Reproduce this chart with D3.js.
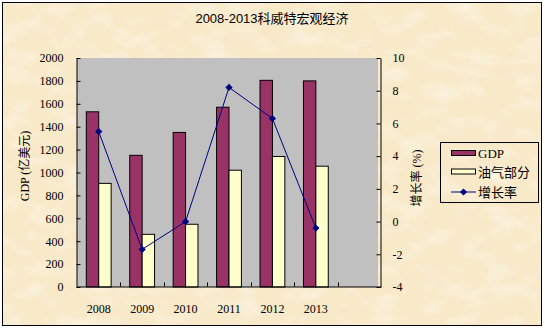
<!DOCTYPE html>
<html>
<head>
<meta charset="utf-8">
<script src="https://cdn.jsdelivr.net/npm/d3@7/dist/d3.min.js"></script>
<style>
  html, body { margin: 0; padding: 0; background: #fff; }
  svg { display: block; }
  text { fill: #000; }
</style>
</head>
<body>
<svg id="chart" width="545" height="330"></svg>
<script>
// Kuwait macro data, 2008-2013
const categories = ["2008", "2009", "2010", "2011", "2012", "2013", ""];
const gdp = [1530, 1150, 1350, 1570, 1805, 1800];          // 亿美元
const oilGas = [905, 460, 548, 1020, 1140, 1055];          // 亿美元
const growth = [5.5, -1.7, 0.0, 8.2, 6.3, -0.4];           // %
const leftTicks = [0, 200, 400, 600, 800, 1000, 1200, 1400, 1600, 1800, 2000];
const rightTicks = [-4, -2, 0, 2, 4, 6, 8, 10];
const seriesNames = ["GDP", "油气部分", "增长率"];

const W = 545, H = 330;
const plot = { left: 77, right: 381, top: 58, bottom: 287 };
const serif = "'Liberation Serif', 'Noto Sans CJK SC', serif";
const cjk = "'Liberation Sans', 'Noto Sans CJK SC', sans-serif";

const svg = d3.select("#chart");

// parchment background
const defs = svg.append("defs");
const f = defs.append("filter").attr("id", "paper")
  .attr("x", 0).attr("y", 0).attr("width", "100%").attr("height", "100%");
f.append("feTurbulence").attr("type", "fractalNoise")
  .attr("baseFrequency", "0.035 0.06").attr("numOctaves", 3).attr("seed", 7);
f.append("feColorMatrix").attr("type", "matrix")
  .attr("values", "0 0 0 0 1  0 0 0 0 0.98  0 0 0 0 0.92  1.6 0 0 0 -0.75");
svg.append("rect").attr("width", W).attr("height", H).attr("fill", "#fff");
svg.append("rect").attr("x", 2).attr("y", 2).attr("width", 540).attr("height", 324)
  .attr("fill", "#f8e9c9");
svg.append("rect").attr("x", 2).attr("y", 2).attr("width", 540).attr("height", 324)
  .attr("filter", "url(#paper)").attr("opacity", 0.75);
svg.append("rect").attr("x", 2.5).attr("y", 2.5).attr("width", 539).attr("height", 323)
  .attr("fill", "none").attr("stroke", "#000").attr("stroke-width", 1);

// scales
const x = d3.scaleBand().domain(categories).range([plot.left, plot.right]);
const xs = d3.scaleBand().domain(["gdp", "oil"]).range([0, x.bandwidth()])
  .paddingInner(0).paddingOuter(0.75);
const yL = d3.scaleLinear().domain([0, 2000]).range([plot.bottom, plot.top]);
const yR = d3.scaleLinear().domain([-4, 10]).range([plot.bottom, plot.top]);

// plot area
svg.append("rect").attr("x", plot.left).attr("y", plot.top)
  .attr("width", plot.right - plot.left - 3).attr("height", plot.bottom - plot.top)
  .attr("fill", "#c0c0c0");

// bars
const years = categories.slice(0, gdp.length);
svg.append("g").selectAll("rect.gdp").data(gdp).join("rect")
  .attr("x", (d, i) => x(years[i]) + xs("gdp"))
  .attr("y", d => yL(d))
  .attr("width", xs.bandwidth())
  .attr("height", d => yL(0) - yL(d))
  .attr("fill", "#993366").attr("stroke", "#000").attr("stroke-width", 1);
svg.append("g").selectAll("rect.oil").data(oilGas).join("rect")
  .attr("x", (d, i) => x(years[i]) + xs("oil"))
  .attr("y", d => yL(d))
  .attr("width", xs.bandwidth())
  .attr("height", d => yL(0) - yL(d))
  .attr("fill", "#ffffcc").attr("stroke", "#000").attr("stroke-width", 1);

// axes
const axL = svg.append("g").attr("transform", `translate(${plot.left - 0.5},0)`)
  .call(d3.axisLeft(yL).tickValues(leftTicks).tickFormat(d3.format("d"))
    .tickSizeInner(-4).tickSizeOuter(0).tickPadding(13));
const axR = svg.append("g").attr("transform", `translate(${plot.right - 0.5},0)`)
  .call(d3.axisRight(yR).tickValues(rightTicks).tickSizeInner(-4).tickSizeOuter(0).tickPadding(12)
    .tickFormat(d => d < 0 ? "-" + Math.abs(d) : d));
const axB = svg.append("g").attr("transform", `translate(0,${plot.bottom - 0.5})`)
  .call(d3.axisBottom(x).tickSize(0).tickPadding(18));
axB.selectAll(".tick text").attr("dy", "0.71em");
// category boundary ticks
axB.selectAll("line.bound").data(categories.slice(1)).join("line")
  .attr("class", "bound")
  .attr("x1", d => Math.round(x(d)) + 0.5).attr("x2", d => Math.round(x(d)) + 0.5)
  .attr("y1", 0).attr("y2", -4).attr("stroke", "#000");

[axL, axR, axB].forEach(a => {
  a.selectAll("path.domain").attr("stroke", "#000").attr("stroke-width", 1);
  a.selectAll(".tick line").attr("stroke", "#000");
  a.selectAll("text").attr("font-family", serif).attr("font-size", 12).attr("fill", "#000");
});

// growth line
const px = (d, i) => x(years[i]) + x.bandwidth() / 2;
svg.append("path").datum(growth)
  .attr("d", d3.line().x(px).y(d => yR(d)))
  .attr("fill", "none").attr("stroke", "#000080").attr("stroke-width", 1);
const diamond = d3.symbol(d3.symbolSquare, 26);
svg.append("g").selectAll("path").data(growth).join("path")
  .attr("d", diamond)
  .attr("transform", (d, i) => `translate(${px(d, i)},${yR(d)}) rotate(45)`)
  .attr("fill", "#000080");

// titles
svg.append("text").attr("x", 272).attr("y", 23).attr("text-anchor", "middle")
  .attr("font-family", cjk).attr("font-size", 13).text("2008-2013科威特宏观经济");
svg.append("text").attr("transform", "translate(29,166) rotate(-90)")
  .attr("text-anchor", "middle").attr("font-family", serif).attr("font-size", 12)
  .text("GDP (亿美元)");
svg.append("text").attr("transform", "translate(421,178) rotate(-90)")
  .attr("text-anchor", "middle").attr("font-family", serif).attr("font-size", 12)
  .text("增长率 (%)");

// legend
const lg = svg.append("g");
lg.append("rect").attr("x", 440.5).attr("y", 142.5).attr("width", 98).attr("height", 60)
  .attr("fill", "none").attr("stroke", "#000");
const rowY = [153, 171.5, 191.5];
lg.append("rect").attr("x", 451.5).attr("y", rowY[0] - 2.5).attr("width", 24).attr("height", 5)
  .attr("fill", "#993366").attr("stroke", "#000");
lg.append("rect").attr("x", 451.5).attr("y", rowY[1] - 2.5).attr("width", 24).attr("height", 5)
  .attr("fill", "#ffffcc").attr("stroke", "#000");
lg.append("line").attr("x1", 451).attr("x2", 476).attr("y1", rowY[2] + 0.5).attr("y2", rowY[2] + 0.5)
  .attr("stroke", "#000080");
lg.append("path").attr("d", diamond)
  .attr("transform", `translate(463.5,${rowY[2] + 0.5}) rotate(45)`).attr("fill", "#000080");
lg.selectAll("text").data(seriesNames).join("text")
  .attr("x", 478).attr("y", (d, i) => rowY[i] + 5)
  .attr("font-family", serif).attr("font-size", 13).text(d => d);
</script>
</body>
</html>
